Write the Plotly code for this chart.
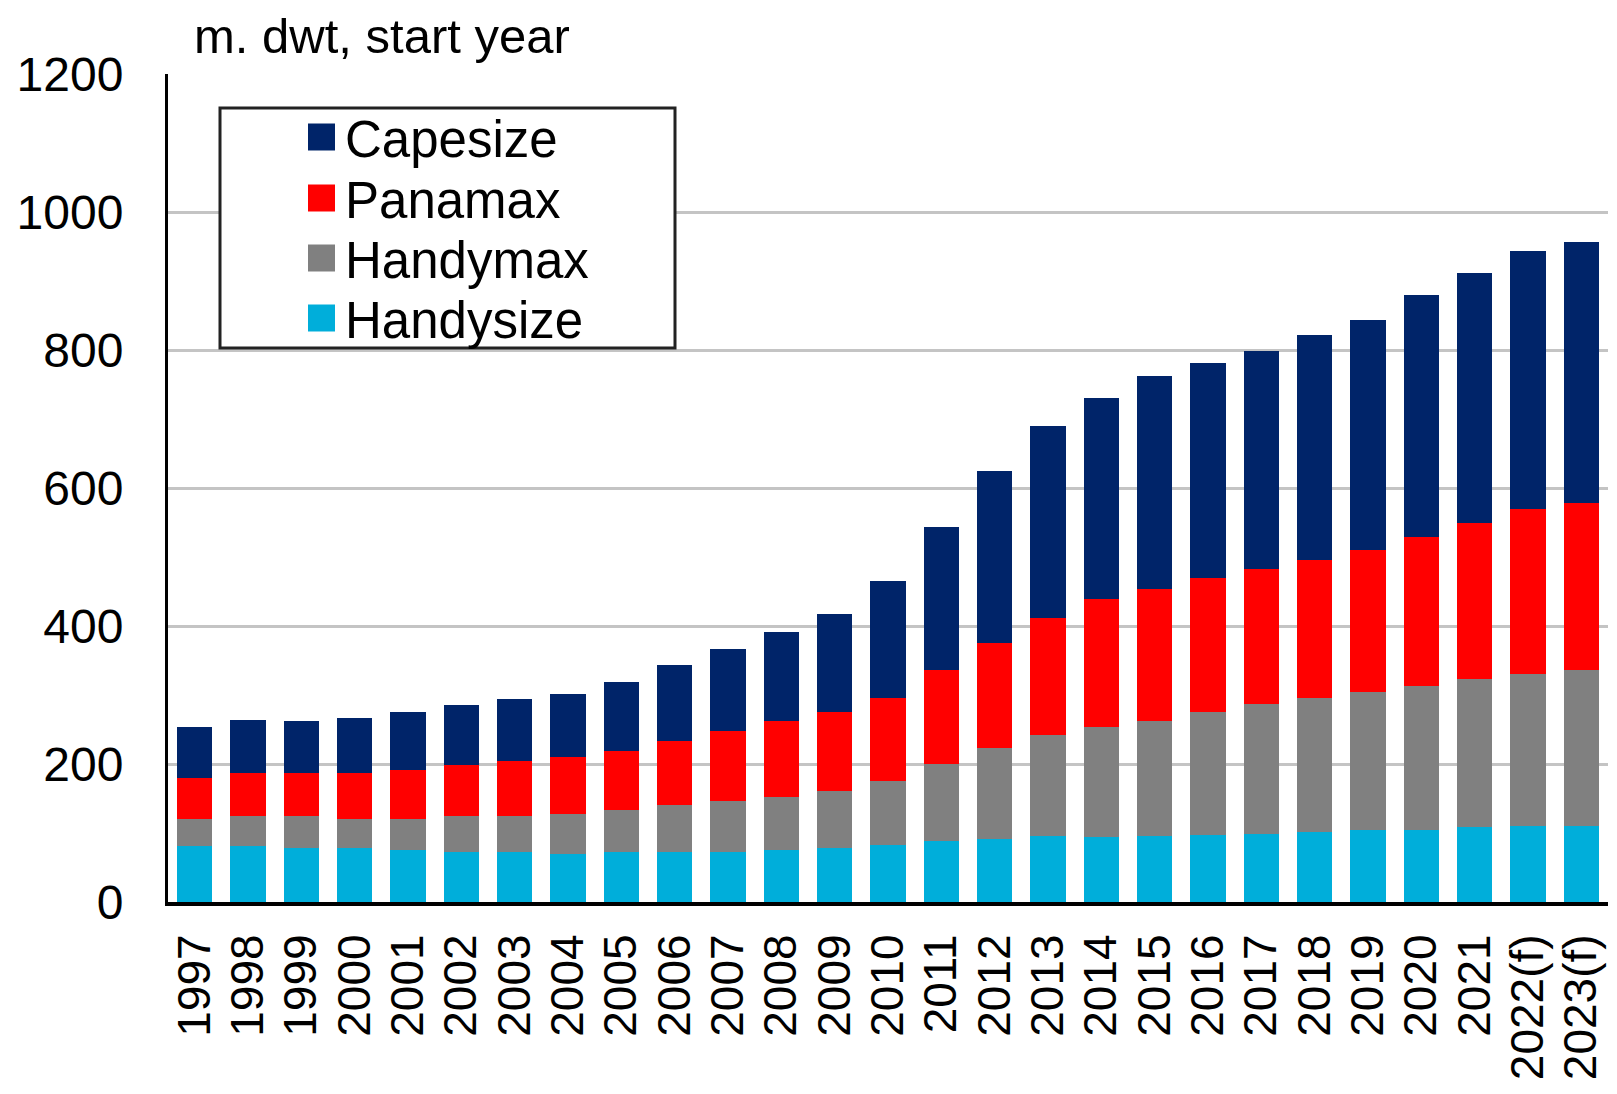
import plotly.graph_objects as go

# ---------------- data ----------------
years = ["1997", "1998", "1999", "2000", "2001", "2002", "2003", "2004", "2005",
         "2006", "2007", "2008", "2009", "2010", "2011", "2012", "2013", "2014",
         "2015", "2016", "2017", "2018", "2019", "2020", "2021", "2022(f)", "2023(f)"]

handysize = [81, 81, 78, 78, 75, 73, 73, 70, 73, 73, 73, 75, 78, 82, 88, 92, 96, 94,
             96, 97, 99, 101, 104, 105, 109, 110, 110]
handymax = [40, 43, 46, 43, 46, 51, 52, 58, 60, 67, 73, 77, 83, 93, 112, 131, 146, 160,
            166, 179, 188, 195, 200, 208, 214, 221, 226]
panamax = [58, 63, 63, 66, 70, 75, 79, 82, 86, 93, 102, 111, 115, 120, 136, 153, 169, 185,
           192, 194, 195, 200, 206, 216, 227, 238, 242]
capesize = [74, 77, 76, 80, 84, 86, 90, 91, 100, 110, 119, 128, 142, 170, 207, 249, 279, 291,
            308, 311, 316, 326, 334, 350, 361, 375, 379]

series_names = ["Capesize", "Panamax", "Handymax", "Handysize"]
y_title = "m. dwt, start year"

# ---------------- styling ----------------
colors = {"Capesize": "#002469", "Panamax": "#FF0000",
          "Handymax": "#808080", "Handysize": "#00AEDA"}
FONT = "Liberation Sans, Arial, sans-serif"

# page body has an 8px margin, so the figure is laid out 8px up/left
OFF = 8
W, H = 1617 - OFF, 1094 - OFF
L, R, T, B = 168 - OFF, 9, 74 - OFF, 192
PW, PH = W - L - R, H - T - B


def px(x):
    # x in reference-page pixels -> paper coordinate
    return (x - OFF - L) / PW


def py(y):
    return (T + PH - (y - OFF)) / PH


fig = go.Figure()
series_values = {"Handysize": handysize, "Handymax": handymax,
                 "Panamax": panamax, "Capesize": capesize}
for name in reversed(series_names):
    fig.add_bar(x=years, y=series_values[name], name=name,
                marker=dict(color=colors[name], line=dict(width=0)))

fig.update_layout(
    barmode="stack", bargap=0.34,
    width=W, height=H,
    margin=dict(l=L, r=R, t=T, b=B, autoexpand=False),
    plot_bgcolor="white", paper_bgcolor="white",
    showlegend=False,
    font=dict(family=FONT, size=46, color="black"),
)
fig.update_yaxes(range=[0, 1200], dtick=200, tick0=0,
                 showgrid=True, gridcolor="#C4C4C4", gridwidth=3,
                 showline=True, linecolor="black", linewidth=3,
                 zeroline=False, ticks="", ticklabelstandoff=32,
                 tickfont=dict(family=FONT, size=48, color="black"))
fig.update_xaxes(type="category", tickmode="array", tickvals=years, ticktext=years,
                 tickangle=-90, showgrid=False,
                 showline=True, linecolor="black", linewidth=4,
                 ticks="", ticklabelstandoff=10,
                 tickfont=dict(family=FONT, size=46, color="black"))

# title
fig.add_annotation(text=y_title, xref="paper", yref="paper",
                   x=px(192), y=py(36), xanchor="left", yanchor="middle",
                   showarrow=False, font=dict(family=FONT, size=49, color="black"))

# custom legend (box, swatches, labels)
fig.add_shape(type="rect", xref="paper", yref="paper",
              x0=px(220), x1=px(675), y0=py(348), y1=py(108),
              line=dict(color="#222222", width=3), fillcolor="white", layer="above")
row_y = [137, 198, 258, 318]
sq = 27
for name, yc in zip(series_names, row_y):
    fig.add_shape(type="rect", xref="paper", yref="paper",
                  x0=px(308), x1=px(308 + sq), y0=py(yc + sq / 2), y1=py(yc - sq / 2),
                  line=dict(width=0), fillcolor=colors[name], layer="above")
    fig.add_annotation(text=name, xref="paper", yref="paper",
                       x=px(343), y=py(yc + 2), xanchor="left", yanchor="middle",
                       showarrow=False, font=dict(family=FONT, size=51, color="black"))

fig.write_html("out.html")
